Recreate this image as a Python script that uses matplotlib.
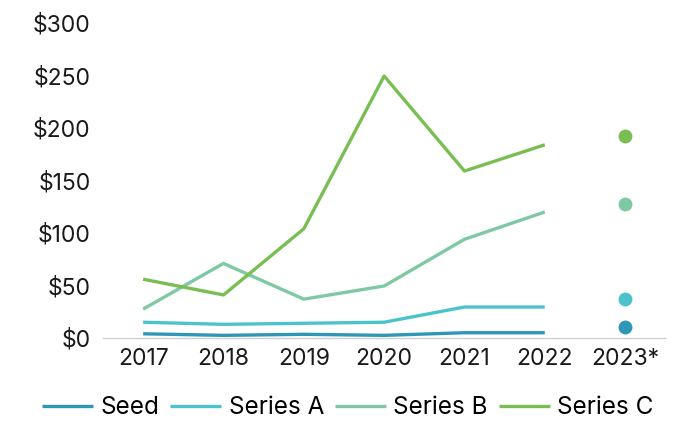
import matplotlib
matplotlib.use("Agg")
import matplotlib.pyplot as plt
from matplotlib.ticker import FuncFormatter

years = ["2017", "2018", "2019", "2020", "2021", "2022", "2023*"]
seed = [4, 2.5, 3.5, 2.5, 5, 5]
series_a = [15, 13, 14, 15, 29.5, 29.5]
series_b = [27.5, 71, 37, 49.5, 94, 120]
series_c = [56, 41, 104, 249.5, 159, 184]
# 2023 projections, shown as single dots
proj_2023 = [10.5, 37.5, 127.5, 192.5]

names = ["Seed", "Series A", "Series B", "Series C"]
colors = ["#2f97b6", "#4cc3ca", "#7ec9a4", "#79be52"]

plt.rcParams["font.family"] = ["Inter", "DejaVu Sans"]

fig = plt.figure(figsize=(6.93, 4.23), dpi=100)
ax = fig.add_axes([0.1486, 0.201, 0.8114, 0.7446])

x = list(range(6))
for vals, name, c in zip([seed, series_a, series_b, series_c], names, colors):
    ax.plot(x, vals, color=c, lw=2.4, label=name, solid_capstyle="butt")
for v, c in zip(proj_2023, colors):
    ax.scatter([6], [v], s=100, color=c, zorder=3, linewidths=0)

ax.set_xlim(-0.5, 6.5)
ax.set_ylim(0, 300)
ax.set_xticks(range(7))
ax.set_xticklabels(years)
ax.set_yticks(range(0, 301, 50))
ax.yaxis.set_major_formatter(FuncFormatter(lambda v, p: "$%d" % v))
ax.tick_params(length=0, labelsize=16.5, colors="#1a1a1a")
ax.tick_params(axis="y", pad=9)
ax.tick_params(axis="x", pad=7)
for s in ["top", "right", "left"]:
    ax.spines[s].set_visible(False)
ax.spines["bottom"].set_color("#d0d0d0")
ax.spines["bottom"].set_linewidth(1)

fig.legend(loc="center", ncol=4, frameon=False, fontsize=17.5,
           bbox_to_anchor=(0.502, 0.036), borderpad=0, handlelength=2.1,
           columnspacing=0.45, handletextpad=0.3)

fig.savefig("out.png", dpi=100)
